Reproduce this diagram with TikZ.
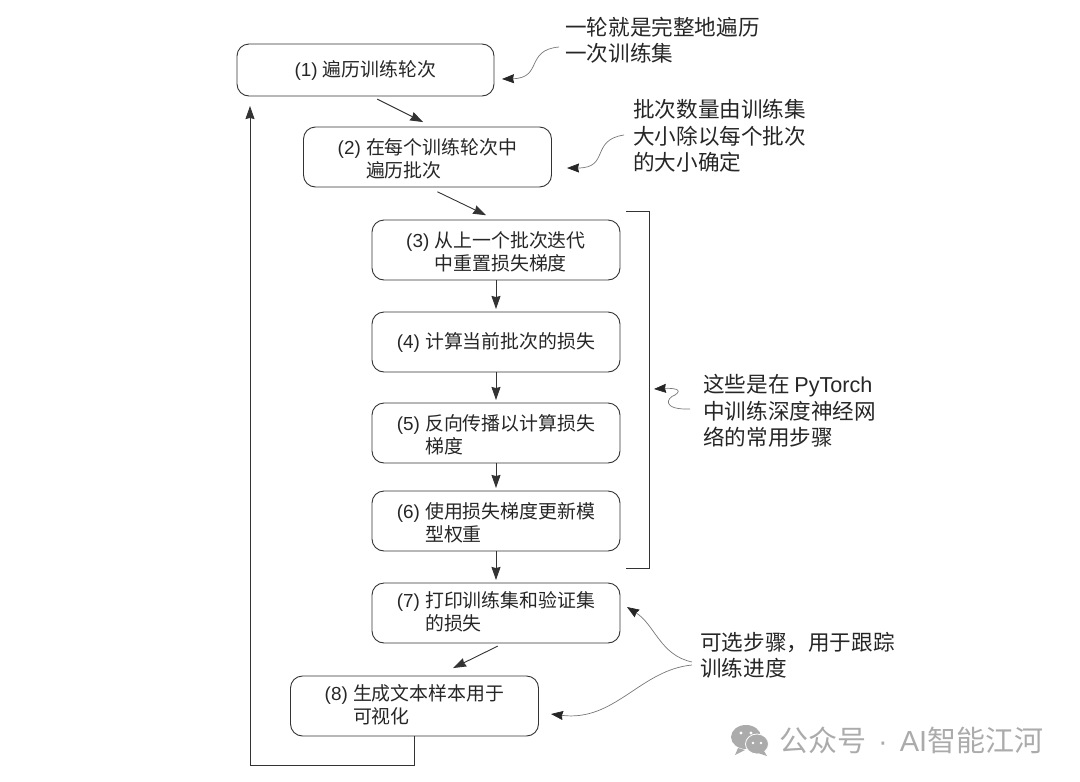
\documentclass[tikz,border=0pt]{standalone}
\usepackage{fontspec}
\usepackage{xcolor}
\setmainfont{Noto Sans CJK SC}
\newfontfamily\latinfont{Liberation Sans}
\usetikzlibrary{arrows.meta}
\definecolor{boxline}{HTML}{333333}
\definecolor{noteline}{HTML}{777777}
\definecolor{markgrey}{HTML}{ABABAB}
\newcommand{\steplabel}[1]{{\latinfont(#1) }}
\newcommand{\stepindent}{\phantom{\steplabel{0}}}
\newcommand{\steptop}{\rule{0pt}{22pt}}
\tikzstyle{stepbox} = [draw=boxline,line width=0.9pt,rounded corners=12pt,minimum width=248pt,minimum height=60pt,inner sep=0pt,outer sep=0pt,align=left,text=black!85,font=\fontsize{18.9}{23}\selectfont]
\tikzstyle{notetext} = [anchor=west,inner sep=0pt,align=left,text=black!85,font=\fontsize{21.6}{26.3}\selectfont]
\tikzstyle{arrow} = [boxline,line width=0.9pt,->,>={Stealth[length=13pt,width=9pt,inset=1pt]}]
\tikzstyle{notearrow} = [noteline,line width=0.7pt,->,>={Stealth[length=12pt,width=9pt,inset=1pt,color=black!85]}]

\begin{document}
\begin{tikzpicture}[x=1pt,y=-1pt]
	\useasboundingbox (0,0) rectangle (1080,782);
	
	% Steps:
	\node [stepbox,minimum width=257pt,minimum height=52pt] (box1) at (365.5,70) {\steplabel{1}遍历训练轮次};
	\node [stepbox] (box2) at (427.5,157) {\steptop\steplabel{2}在每个训练轮次中\\\stepindent 遍历批次};
	\node [stepbox] (box3) at (496,250) {\steptop\steplabel{3}从上一个批次迭代\\\stepindent 中重置损失梯度};
	\node [stepbox] (box4) at (496,342) {\steplabel{4}计算当前批次的损失};
	\node [stepbox] (box5) at (496,433) {\steptop\steplabel{5}反向传播以计算损失\\\stepindent 梯度};
	\node [stepbox] (box6) at (496,521) {\steptop\steplabel{6}使用损失梯度更新模\\\stepindent 型权重};
	\node [stepbox] (box7) at (496,613) {\steplabel{7}打印训练集和验证集\\\stepindent 的损失};
	\node [stepbox] (box8) at (414.5,706) {\steplabel{8}生成文本样本用于\\\stepindent 可视化};
	
	% Notes:
	\node [notetext] (note1) at (565,40) {一轮就是完整地遍历\\一次训练集};
	\node [notetext] (note2) at (633,136) {批次数量由训练集\\大小除以每个批次\\的大小确定};
	\node [notetext] (note3) at (703,411) {这些是在 {\latinfont PyTorch}\\中训练深度神经网\\络的常用步骤};
	\node [notetext] (note4) at (700,655) {可选步骤，用于跟踪\\训练进度};
	
	% Flow between the steps:
	\draw [arrow,shorten <=7pt,shorten >=11pt] ([xshift=5.5pt]box1.south) -- ([xshift=5.5pt]box2.north);
	\draw [arrow,shorten <=11pt,shorten >=11pt] (box2.south) -- (box3.north);
	\foreach \a/\b in {box3/box4,box4/box5,box5/box6,box6/box7}
	{
		\draw [arrow,shorten >=3pt] (\a.south) -- (\b.north);
	}
	\draw [arrow,shorten <=7pt,shorten >=18pt] ([xshift=8pt]box7.south) -- ([xshift=22.5pt]box8.north);
	
	% Way back to the first step:
	\coordinate (loopcorner) at (250,765);
	\coordinate (looptop) at (250,106);
	\draw [arrow] (box8.south) |- (loopcorner) -- (looptop);
	
	% Bracket round steps 3 to 6:
	\coordinate (brackettop) at (626,211);
	\coordinate (bracketend) at (626,568);
	\draw [boxline,line width=0.9pt] (brackettop) -- (649,211) -- (649,568) -- (bracketend);
	
	% Curved arrows from the notes:
	\coordinate (tip1) at (502,79);
	\coordinate (tip2) at (567,168);
	\coordinate (tip3) at (654,389);
	\coordinate (tip7) at (627,607);
	\coordinate (tip8) at (551,714);
	\draw [notearrow] (559,47) .. controls (525,50) and (543,78) .. (tip1);
	\draw [notearrow] (624,135) .. controls (590,140) and (610,168) .. (tip2);
	\draw [notearrow] (690,409) .. controls (662,410) and (666,398) .. (675,395) .. controls (684,389) and (672,388) .. (tip3);
	\draw [notearrow] (692,662) .. controls (660,655) and (655,625) .. (tip7);
	\draw [notearrow] (692,665) .. controls (640,670) and (615,722) .. (tip8);
	
	% Watermark:
	\fill [markgrey] (746,737) ellipse (15pt and 12pt);
	\fill [markgrey] (738,748) -- (735,755) -- (745,750) -- cycle;
	\fill [markgrey,draw=white,line width=0.8pt] (757,744) ellipse (11.5pt and 10pt);
	\fill [markgrey] (764,751) -- (767,756) -- (758,753) -- cycle;
	\fill [white] (741,733) circle (1.7pt) (751,733) circle (1.7pt) (753,743) circle (1.3pt) (761,743) circle (1.3pt);
	\node [anchor=west,inner sep=0pt,text=markgrey,font=\fontsize{29}{30}\selectfont] (mark) at (779,740) {公众号\hspace{12pt}{\latinfont ·}\hspace{12pt}{\latinfont AI}智能江河};
\end{tikzpicture}
\end{document}
